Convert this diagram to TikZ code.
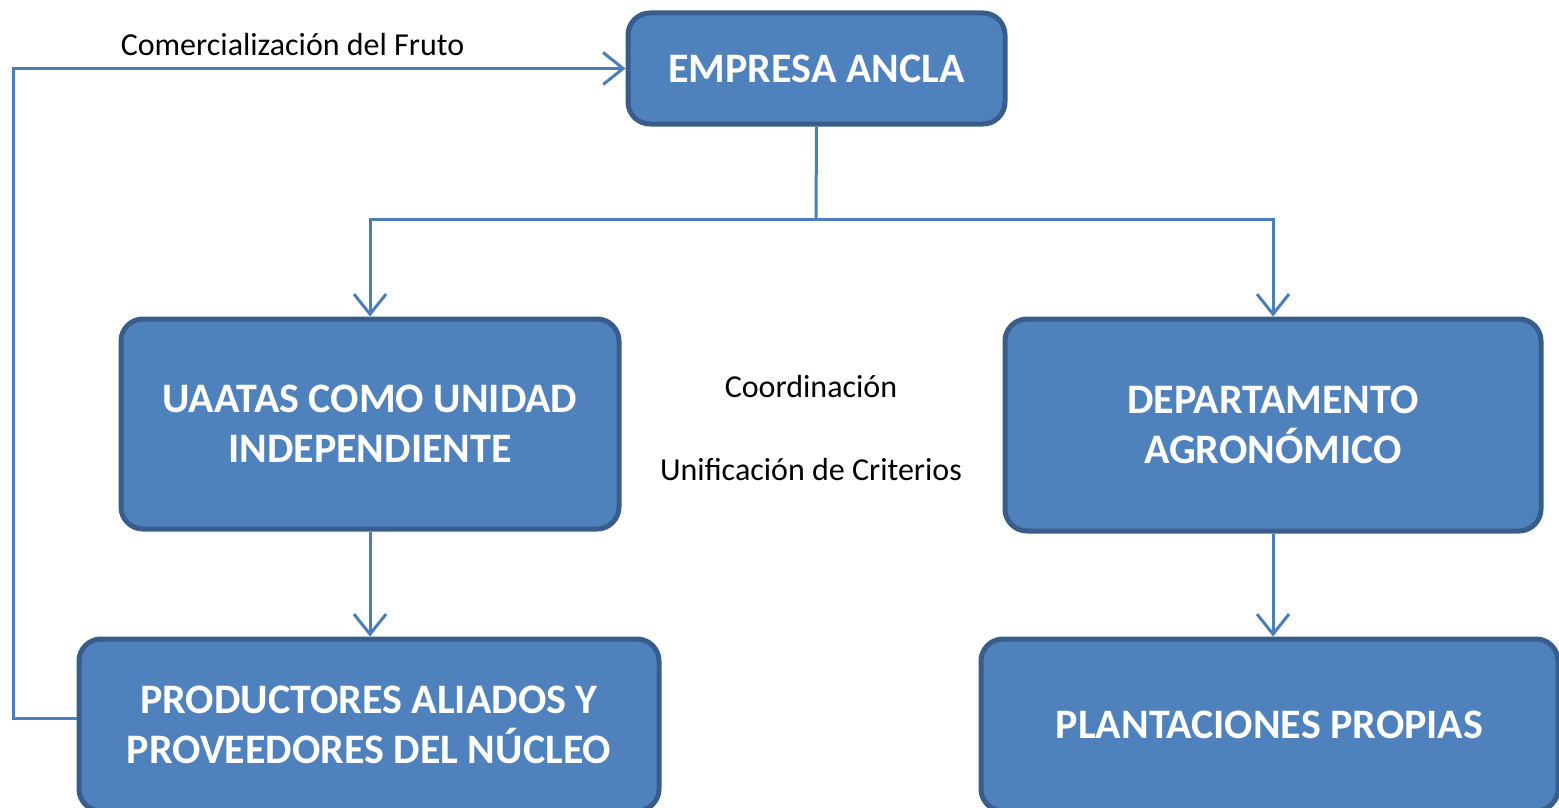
\documentclass[tikz,border=0pt]{standalone}
\usepackage{fontspec}
\setmainfont{Carlito}
\usetikzlibrary{arrows.meta}
\definecolor{boxfill}{HTML}{4F81BD}
\definecolor{boxedge}{HTML}{385D8A}
\definecolor{linecol}{HTML}{4A7EBB}
\tikzset{
  ebox/.style={draw=boxedge, fill=boxfill, line width=5pt, rounded corners=22pt,
    text=white, font=\fontsize{42}{50}\selectfont\bfseries, align=center, inner sep=0pt},
  conn/.style={draw=linecol, line width=3pt},
  arr/.style={conn, -{Straight Barb[length=20pt,width=32pt,line width=3pt]}},
  lbl/.style={font=\fontsize{32}{36}\selectfont, text=black, inner sep=0pt}
}
\begin{document}
\begin{tikzpicture}[x=1pt,y=-1pt]
\useasboundingbox (0,0) rectangle (1559,808);
\node[ebox, minimum width=377pt, minimum height=111pt] (emp) at (816.5,68.5) {EMPRESA ANCLA};
\node[ebox, minimum width=498pt, minimum height=210pt] (uaa) at (370,424) {UAATAS COMO UNIDAD\\INDEPENDIENTE};
\node[ebox, minimum width=536pt, minimum height=212pt] (dep) at (1273,425) {DEPARTAMENTO\\AGRONÓMICO};
\node[ebox, minimum width=580pt, minimum height=172pt] (pro) at (369,725) {PRODUCTORES ALIADOS Y\\PROVEEDORES DEL NÚCLEO};
\node[ebox, minimum width=577pt, minimum height=172pt] (pla) at (1269.5,725) {PLANTACIONES PROPIAS};
\coordinate (j) at (816,219);
\coordinate (corner) at (13,718);
\draw[conn] (emp.south) -- (j);
\draw[arr] (j) -| (uaa.north);
\draw[arr] (j) -| (dep.north);
\draw[arr] (uaa.south) -- (uaa.south |- pro.north);
\draw[arr] (dep.south) -- (dep.south |- pla.north);
\draw[arr] (pro.west |- corner) -- (corner) |- (emp.west);
\node[lbl] (com) at (292.5,45) {Comercialización del Fruto};
\node[lbl] (coo) at (811,387) {Coordinación};
\node[lbl] (uni) at (811,470) {Unificación de Criterios};
\end{tikzpicture}
\end{document}
